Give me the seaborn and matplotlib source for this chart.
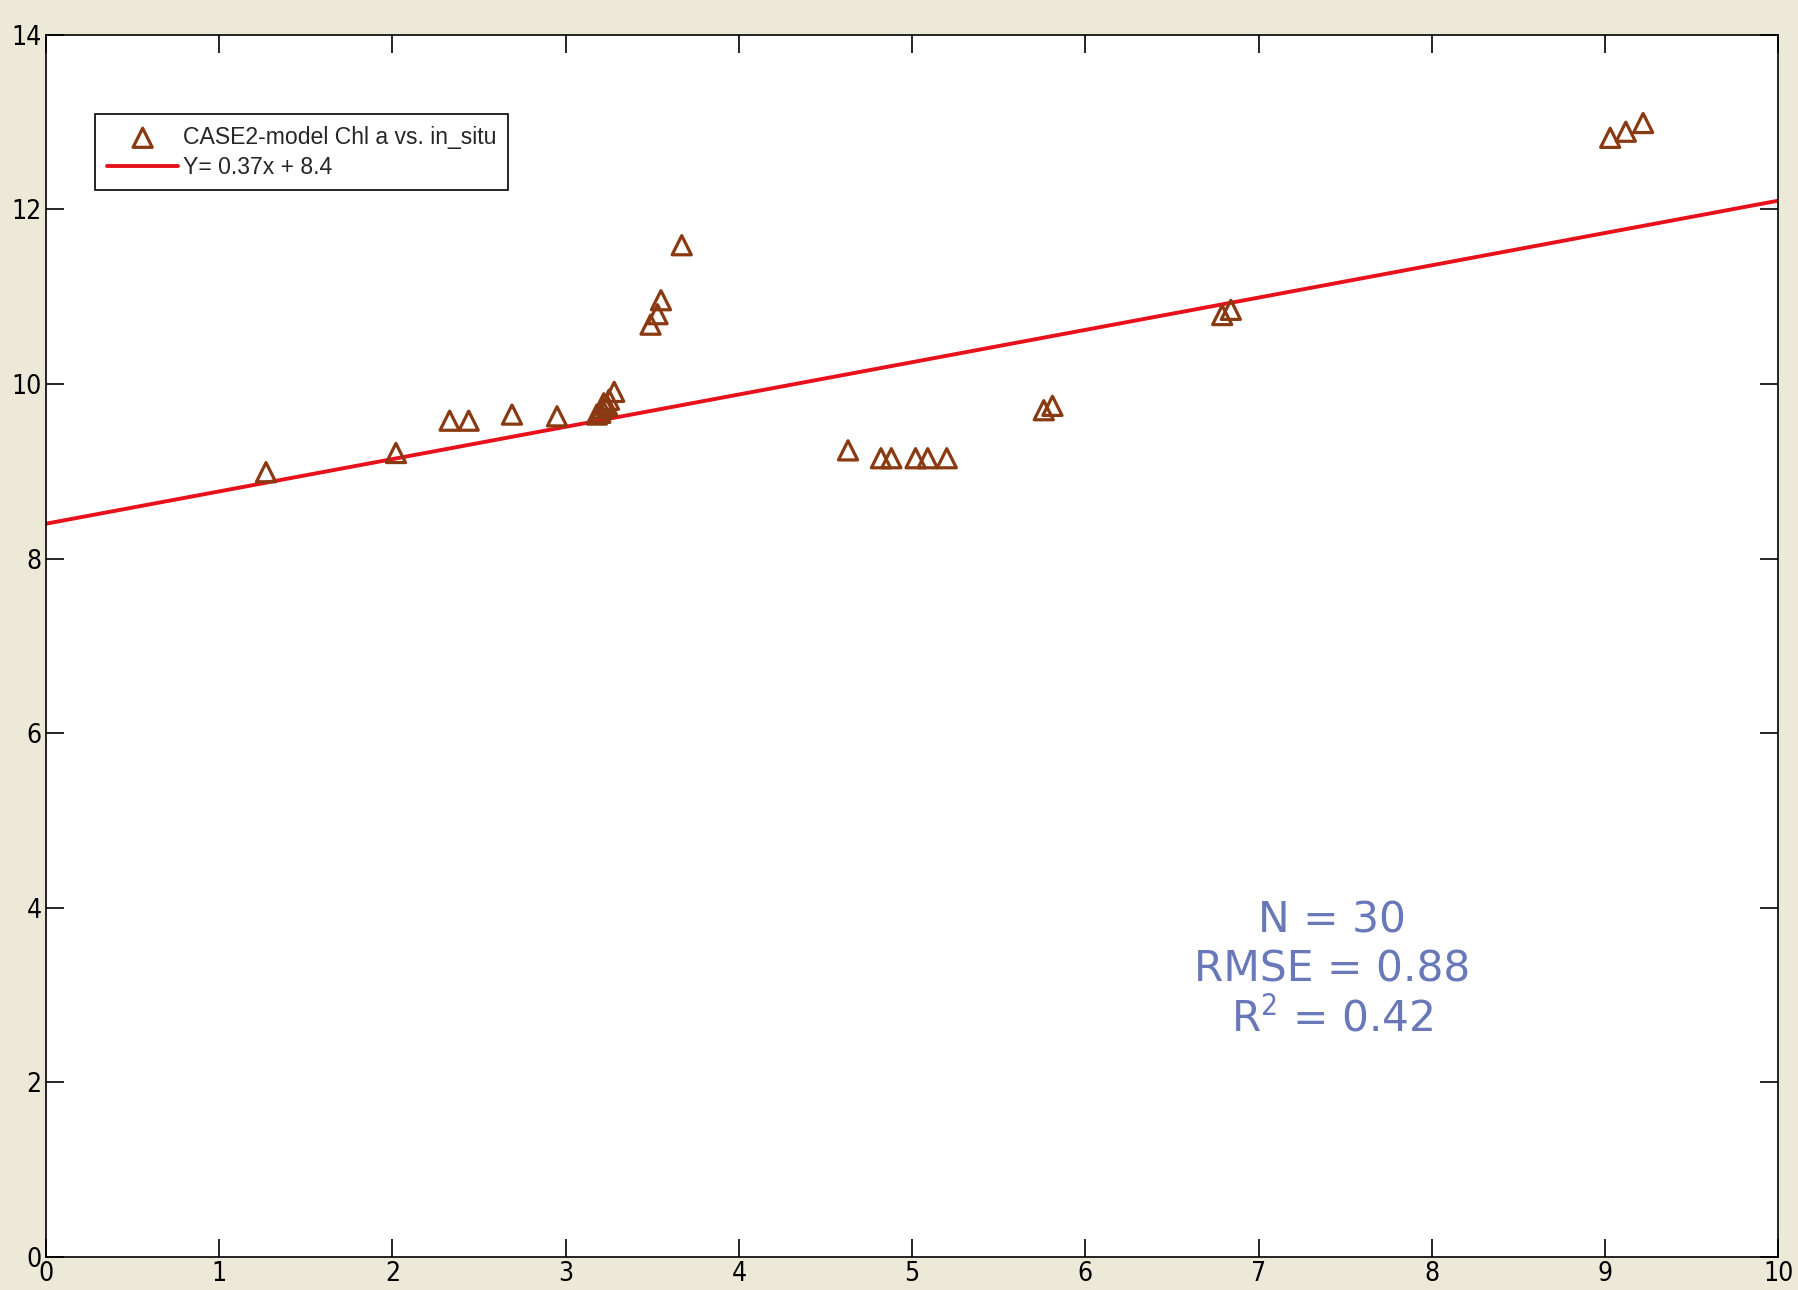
import numpy as np
import pandas as pd
import matplotlib
matplotlib.use("Agg")
import matplotlib.pyplot as plt
import seaborn as sns

# in-situ Chl a vs. CASE2-model Chl a
in_situ = [1.27, 2.02, 2.33, 2.44, 2.69, 2.95,
           3.18, 3.20, 3.21, 3.22, 3.24, 3.25, 3.28,
           3.49, 3.53, 3.55, 3.67,
           4.63, 4.82, 4.88, 5.02, 5.09, 5.20,
           5.76, 5.81, 6.79, 6.84, 9.03, 9.12, 9.22]
model = [8.99, 9.21, 9.58, 9.58, 9.65, 9.63,
         9.65, 9.67, 9.72, 9.78, 9.75, 9.82, 9.91,
         10.68, 10.80, 10.96, 11.59,
         9.24, 9.15, 9.15, 9.15, 9.15, 9.15,
         9.70, 9.75, 10.79, 10.85, 12.82, 12.89, 12.99]

slope = 0.37
intercept = 8.4
stats_lines = ["N = 30", "RMSE = 0.88", "R$^{2}$ = 0.42"]
x_ticks = list(range(0, 11))
y_ticks = list(range(0, 15, 2))

sns.set_theme(style="white")
plt.rcParams["font.family"] = ["Liberation Sans Narrow", "DejaVu Sans"]
plt.rcParams["font.stretch"] = "condensed"

fig = plt.figure(figsize=(17.98, 12.90), dpi=100, facecolor="#ECE9D8")
ax = fig.add_axes([0.0256, 0.0256, 0.9634, 0.9474])
ax.set_facecolor("white")

df = pd.DataFrame({"in_situ": in_situ, "model": model})
sns.scatterplot(data=df, x="in_situ", y="model", ax=ax, marker="^",
                s=190, facecolor="none", edgecolor="#8A3A12", linewidth=2.3,
                label="CASE2-model Chl a vs. in_situ", zorder=3)

fit = pd.DataFrame({"x": [0, 10]})
fit["y"] = slope * fit["x"] + intercept
sns.lineplot(data=fit, x="x", y="y", ax=ax, color="#E8101A", linewidth=2.8,
             label=f"Y= {slope}x + {intercept}", zorder=2)

ax.set_xlim(0, 10)
ax.set_ylim(0, 14)
ax.set_xticks(x_ticks)
ax.set_yticks(y_ticks)
ax.set_xlabel("")
ax.set_ylabel("")
ax.tick_params(direction="in", length=13, width=1.2, colors="black",
               top=True, right=True, bottom=True, left=True,
               labelsize=19, pad=3)
for s in ax.spines.values():
    s.set_color("black")
    s.set_linewidth(1.2)

leg = ax.legend(loc="upper left", bbox_to_anchor=(0.0285, 0.935),
                frameon=True, fancybox=False, edgecolor="black",
                framealpha=1, borderaxespad=0,
                handlelength=3.1, handletextpad=0.2, borderpad=0.5,
                labelspacing=0.3,
                prop={"family": ["Liberation Sans", "DejaVu Sans"], "size": 16.6})
leg.get_frame().set_linewidth(1.2)

ax.text(0.7425, 0.235, "\n".join(stats_lines), transform=ax.transAxes,
        ha="center", va="center", color="#6878B8", fontsize=30.5,
        family=["DejaVu Sans"], stretch="normal", linespacing=1.22)

fig.savefig("out.png", dpi=100, facecolor=fig.get_facecolor())
